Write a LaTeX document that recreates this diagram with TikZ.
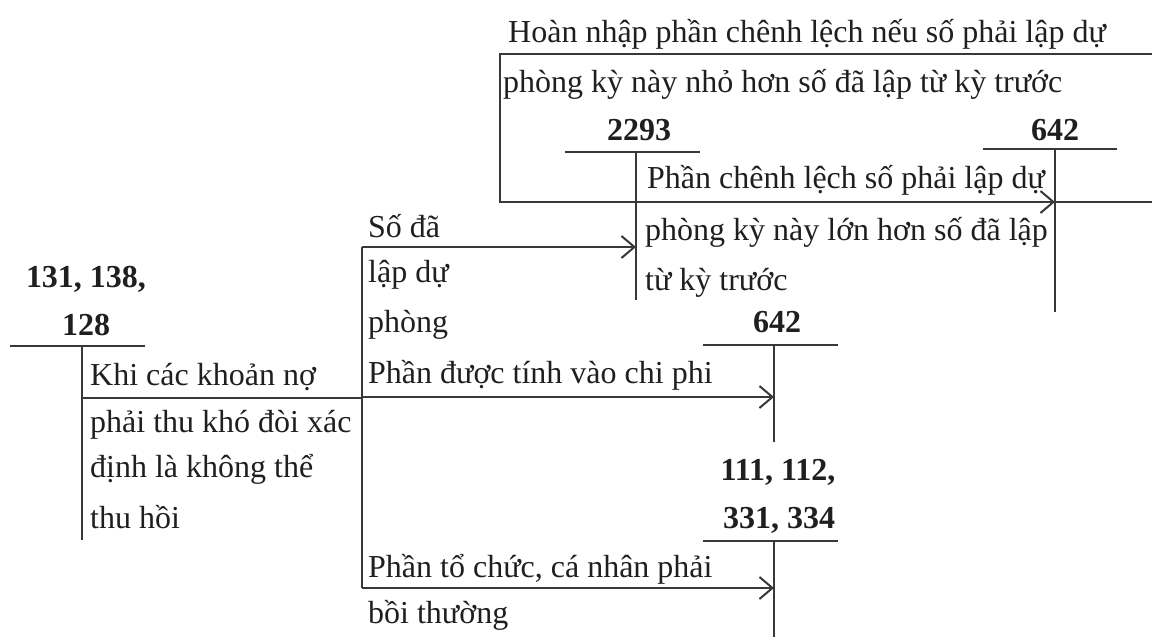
\documentclass[tikz,border=0pt]{standalone}
\usepackage{fontspec}
\setmainfont{Liberation Serif}
\usetikzlibrary{arrows.meta}
\begin{document}
\begin{tikzpicture}[x=1pt,y=-1pt,
  txt/.style={anchor=base west, inner sep=0pt, font=\fontsize{32}{38}\selectfont, text=black!88},
  acct/.style={anchor=base, inner sep=0pt, font=\fontsize{32}{38}\selectfont\bfseries, text=black!88},
  ln/.style={line width=2pt, draw=black!78},
  arr/.style={ln, -{Straight Barb[length=13pt,width=22pt,line width=2pt]}}]
\useasboundingbox (0,0) rectangle (1152,637);

% ---------- T-account 131, 138, 128 ----------
\node[acct] (a131a) at (86,287) {131, 138,};
\node[acct] (a131b) at (86,335) {128};
\coordinate (h131l) at (10,346);  \coordinate (h131r) at (145,346);
\coordinate (v131t) at (82,346);  \coordinate (v131b) at (82,540);
\draw[ln] (h131l) -- (h131r);
\draw[ln] (v131t) -- (v131b);

% ---------- T-account 2293 ----------
\node[acct] (a2293) at (639,140) {2293};
\coordinate (h2293l) at (565,152); \coordinate (h2293r) at (700,152);
\coordinate (v2293t) at (636,152); \coordinate (v2293b) at (636,300);
\draw[ln] (h2293l) -- (h2293r);
\draw[ln] (v2293t) -- (v2293b);

% ---------- T-account 642 (upper) ----------
\node[acct] (a642u) at (1055,140) {642};
\coordinate (h642ul) at (983,149); \coordinate (h642ur) at (1117,149);
\coordinate (v642ut) at (1055,149); \coordinate (v642ub) at (1055,312);
\draw[ln] (h642ul) -- (h642ur);
\draw[ln] (v642ut) -- (v642ub);

% ---------- T-account 642 (middle) ----------
\node[acct] (a642m) at (777,332) {642};
\coordinate (h642ml) at (703,345); \coordinate (h642mr) at (838,345);
\coordinate (v642mt) at (774,345); \coordinate (v642mb) at (774,442);
\draw[ln] (h642ml) -- (h642mr);
\draw[ln] (v642mt) -- (v642mb);

% ---------- T-account 111, 112, 331, 334 ----------
\node[acct] (a111a) at (778,480) {111, 112,};
\node[acct] (a111b) at (779,528) {331, 334};
\coordinate (h111l) at (703,541); \coordinate (h111r) at (838,541);
\coordinate (v111t) at (774,541); \coordinate (v111b) at (774,637);
\draw[ln] (h111l) -- (h111r);
\draw[ln] (v111t) -- (v111b);

% ---------- trunk from 131 ----------
\coordinate (out131) at (82,398);
\coordinate (trunkA) at (362,398);
\coordinate (trunkT) at (362,247);
\coordinate (trunkM) at (362,397);
\coordinate (trunkB) at (362,588);
\draw[ln] (out131) -- (trunkA);
\draw[ln] (trunkT) -- (trunkB);
\draw[arr] (trunkT) -- (v2293t |- trunkT);
\draw[arr] (trunkM) -- (v642mt |- trunkM);
\draw[arr] (trunkB) -- (v111t |- trunkB);

% ---------- reversal loop between 642 and 2293 ----------
\coordinate (loopTR) at (1152,54);
\coordinate (loopTL) at (500,54);
\coordinate (loopBL) at (500,202);
\coordinate (loopBR) at (1152,202);
\draw[arr] (loopTR) -- (loopTL) -- (loopBL) -- (v642ut |- loopBL);
\draw[ln] (v642ut |- loopBR) -- (loopBR);

% ---------- texts ----------
\node[txt] (r1) at (508,42) {Hoàn nhập phần chênh lệch nếu số phải lập dự};
\node[txt] (r2) at (503,92) {phòng kỳ này nhỏ hơn số đã lập từ kỳ trước};

\node[txt] (p1) at (647,188) {Phần chênh lệch số phải lập dự};
\node[txt] (p2) at (645,240) {phòng kỳ này lớn hơn số đã lập};
\node[txt] (p3) at (645,290) {từ kỳ trước};

\node[txt] (s1) at (368,237) {Số đã};
\node[txt] (s2) at (368,282) {lập dự};
\node[txt] (s3) at (368,332) {phòng};
\node[txt] (s4) at (368,383) {Phần được tính vào chi phi};

\node[txt] (k1) at (90,385) {Khi các khoản nợ};
\node[txt] (k2) at (90,432) {phải thu khó đòi xác};
\node[txt] (k3) at (90,477) {định là không thể};
\node[txt] (k4) at (90,528) {thu hồi};

\node[txt] (b1) at (368,577) {Phần tổ chức, cá nhân phải};
\node[txt] (b2) at (368,623) {bồi thường};
\end{tikzpicture}
\end{document}
